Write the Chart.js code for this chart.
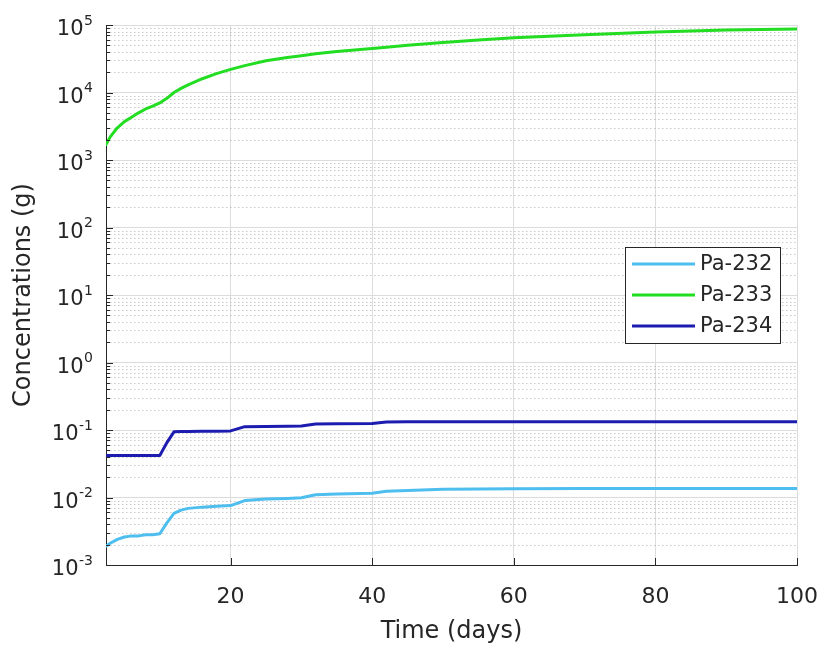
<!DOCTYPE html>
<html>
<head>
<meta charset="utf-8">
<script src="https://cdn.jsdelivr.net/npm/chart.js@4.4.0/dist/chart.umd.min.js"></script>
<style>
  html, body { margin: 0; padding: 0; background: #fff; }
  #wrap { width: 821px; height: 646px; }
</style>
</head>
<body>
<div id="wrap"><canvas id="chart" width="821" height="646"></canvas></div>
<script>
// time axis (days)
const times = [2.4, 3, 4, 5, 6, 7, 8, 9, 10, 11, 12, 13, 14, 16, 18, 20, 22, 25, 28, 30, 32, 35, 40, 42, 45, 50, 55, 60, 70, 80, 90, 100];

// concentrations (g)
const pa232 = [0.0019, 0.0021, 0.0024, 0.0026, 0.0027, 0.0027, 0.0028, 0.0028, 0.0029, 0.0042, 0.0058, 0.0065, 0.0069, 0.0072, 0.0074, 0.0076,
               0.0090, 0.0095, 0.0097, 0.0099, 0.0110, 0.0113, 0.0116, 0.0124, 0.0127, 0.0132, 0.0134, 0.0135, 0.0136, 0.0136, 0.0136, 0.0136];
const pa233 = [1700, 2200, 3000, 3700, 4300, 5000, 5700, 6300, 7000, 8200, 10000, 11500, 13000, 16000, 19000, 22000,
               25000, 29500, 33000, 35000, 37500, 40500, 45000, 47000, 50000, 55000, 60000, 65000, 72000, 79000, 84000, 87000];
const pa234 = [0.042, 0.042, 0.042, 0.042, 0.042, 0.042, 0.042, 0.042, 0.042, 0.065, 0.094, 0.095, 0.095, 0.096, 0.096, 0.097,
               0.112, 0.113, 0.114, 0.115, 0.123, 0.124, 0.125, 0.131, 0.132, 0.133, 0.133, 0.133, 0.133, 0.133, 0.133, 0.133];

const seriesNames  = ['Pa-232', 'Pa-233', 'Pa-234'];
const seriesColors = ['#4dbeee', '#22dd22', '#1c1cb0'];
const xTicks = [20, 40, 60, 80, 100];
const yDecades = [-3, -2, -1, 0, 1, 2, 3, 4, 5];

const TXT = '#262626';
const FONT = '"DejaVu Sans", "Liberation Sans", Arial, sans-serif';

function pts(vals){ return times.map((t, i) => ({ x: t, y: vals[i] })); }

// minor grid (dotted) + inward ticks + y labels with exponents
const axesExtras = {
  id: 'axesExtras',
  beforeDatasetsDraw(chart){
    const { ctx, chartArea: a, scales: { y } } = chart;
    ctx.save();
    ctx.strokeStyle = 'rgba(140,140,140,0.45)';
    ctx.lineWidth = 1;
    ctx.setLineDash([1.5, 2.5]);
    for (let e = -3; e < 5; e++) {
      for (let m = 2; m <= 9; m++) {
        const py = Math.round(y.getPixelForValue(m * Math.pow(10, e))) + 0.5;
        ctx.beginPath(); ctx.moveTo(a.left, py); ctx.lineTo(a.right, py); ctx.stroke();
      }
    }
    ctx.restore();
  },
  afterDatasetsDraw(chart){
    const { ctx, chartArea: a, scales: { x, y } } = chart;
    ctx.save();
    ctx.strokeStyle = TXT;
    ctx.lineWidth = 1;
    // y ticks
    for (let e = -3; e <= 5; e++) {
      const py = Math.round(y.getPixelForValue(Math.pow(10, e))) + 0.5;
      ctx.beginPath(); ctx.moveTo(a.left, py); ctx.lineTo(a.left + 7, py); ctx.stroke();
      if (e < 5) {
        for (let m = 2; m <= 9; m++) {
          const my = Math.round(y.getPixelForValue(m * Math.pow(10, e))) + 0.5;
          ctx.beginPath(); ctx.moveTo(a.left, my); ctx.lineTo(a.left + 4, my); ctx.stroke();
        }
      }
    }
    // x ticks
    xTicks.forEach(v => {
      const px = Math.round(x.getPixelForValue(v)) + 0.5;
      ctx.beginPath(); ctx.moveTo(px, a.bottom); ctx.lineTo(px, a.bottom - 7); ctx.stroke();
    });
    // y tick labels 10^e
    ctx.fillStyle = TXT;
    ctx.textBaseline = 'middle';
    const rightX = a.left - 13;
    yDecades.forEach(e => {
      const py = y.getPixelForValue(Math.pow(10, e));
      const exp = String(e);
      ctx.font = '14px ' + FONT;
      const ew = ctx.measureText(exp).width;
      ctx.textAlign = 'right';
      ctx.fillText(exp, rightX, py - 4);
      ctx.font = '21px ' + FONT;
      ctx.fillText('10', rightX - ew - 0.5, py + 5);
    });
    ctx.restore();
  }
};

// legend box inside the plot, upper right of the middle
const boxLegend = {
  id: 'boxLegend',
  afterDatasetsDraw(chart){
    const { ctx, chartArea: a } = chart;
    const w = 155, h = 96;
    const bx = a.right - 17 - w, by = a.top + 222;
    ctx.save();
    ctx.fillStyle = '#fff';
    ctx.fillRect(bx, by, w, h);
    ctx.strokeStyle = TXT;
    ctx.lineWidth = 1;
    ctx.strokeRect(Math.round(bx) + 0.5, Math.round(by) + 0.5, w, h);
    ctx.font = '21px ' + FONT;
    ctx.textAlign = 'left';
    ctx.textBaseline = 'middle';
    chart.data.datasets.forEach((ds, i) => {
      const ly = by + 17 + i * 31;
      ctx.strokeStyle = ds.borderColor;
      ctx.lineWidth = 3;
      ctx.beginPath(); ctx.moveTo(bx + 7, ly); ctx.lineTo(bx + 70, ly); ctx.stroke();
      ctx.fillStyle = TXT;
      ctx.fillText(ds.label, bx + 75, ly + 1);
    });
    ctx.restore();
  }
};

new Chart(document.getElementById('chart'), {
  type: 'line',
  data: {
    datasets: [
      { label: seriesNames[0], data: pts(pa232), borderColor: seriesColors[0] },
      { label: seriesNames[1], data: pts(pa233), borderColor: seriesColors[1] },
      { label: seriesNames[2], data: pts(pa234), borderColor: seriesColors[2] }
    ]
  },
  options: {
    responsive: false,
    animation: false,
    layout: { padding: { top: 25, right: 24, left: 0, bottom: 0 } },
    elements: {
      point: { radius: 0 },
      line: { borderWidth: 3, tension: 0, fill: false, borderCapStyle: 'round', borderJoinStyle: 'round' }
    },
    plugins: { legend: { display: false }, tooltip: { enabled: false } },
    scales: {
      x: {
        type: 'linear', min: 2.4, max: 100,
        afterBuildTicks: s => { s.ticks = xTicks.map(v => ({ value: v })); },
        afterFit: s => { s.height = 81; s.paddingLeft = 0; s.paddingRight = 0; },
        grid: { color: '#dcdcdc', drawTicks: false },
        border: { color: TXT, width: 1 },
        ticks: { color: TXT, font: { size: 22, family: FONT }, padding: 19, maxRotation: 0 },
        title: { display: true, text: 'Time (days)', color: TXT, font: { size: 24, family: FONT }, padding: { top: 0, bottom: 0 } }
      },
      y: {
        type: 'logarithmic', min: 1e-3, max: 1e5,
        afterBuildTicks: s => { s.ticks = yDecades.map(e => ({ value: Math.pow(10, e) })); },
        afterFit: s => { s.width = 106; s.paddingTop = 0; s.paddingBottom = 0; },
        grid: { color: '#dcdcdc', drawTicks: false },
        border: { color: TXT, width: 1 },
        ticks: { display: false },
        title: { display: true, text: 'Concentrations (g)', color: TXT, font: { size: 24, family: FONT }, padding: { top: 9, bottom: 0 } }
      }
    }
  },
  plugins: [axesExtras, boxLegend]
});
</script>
</body>
</html>
